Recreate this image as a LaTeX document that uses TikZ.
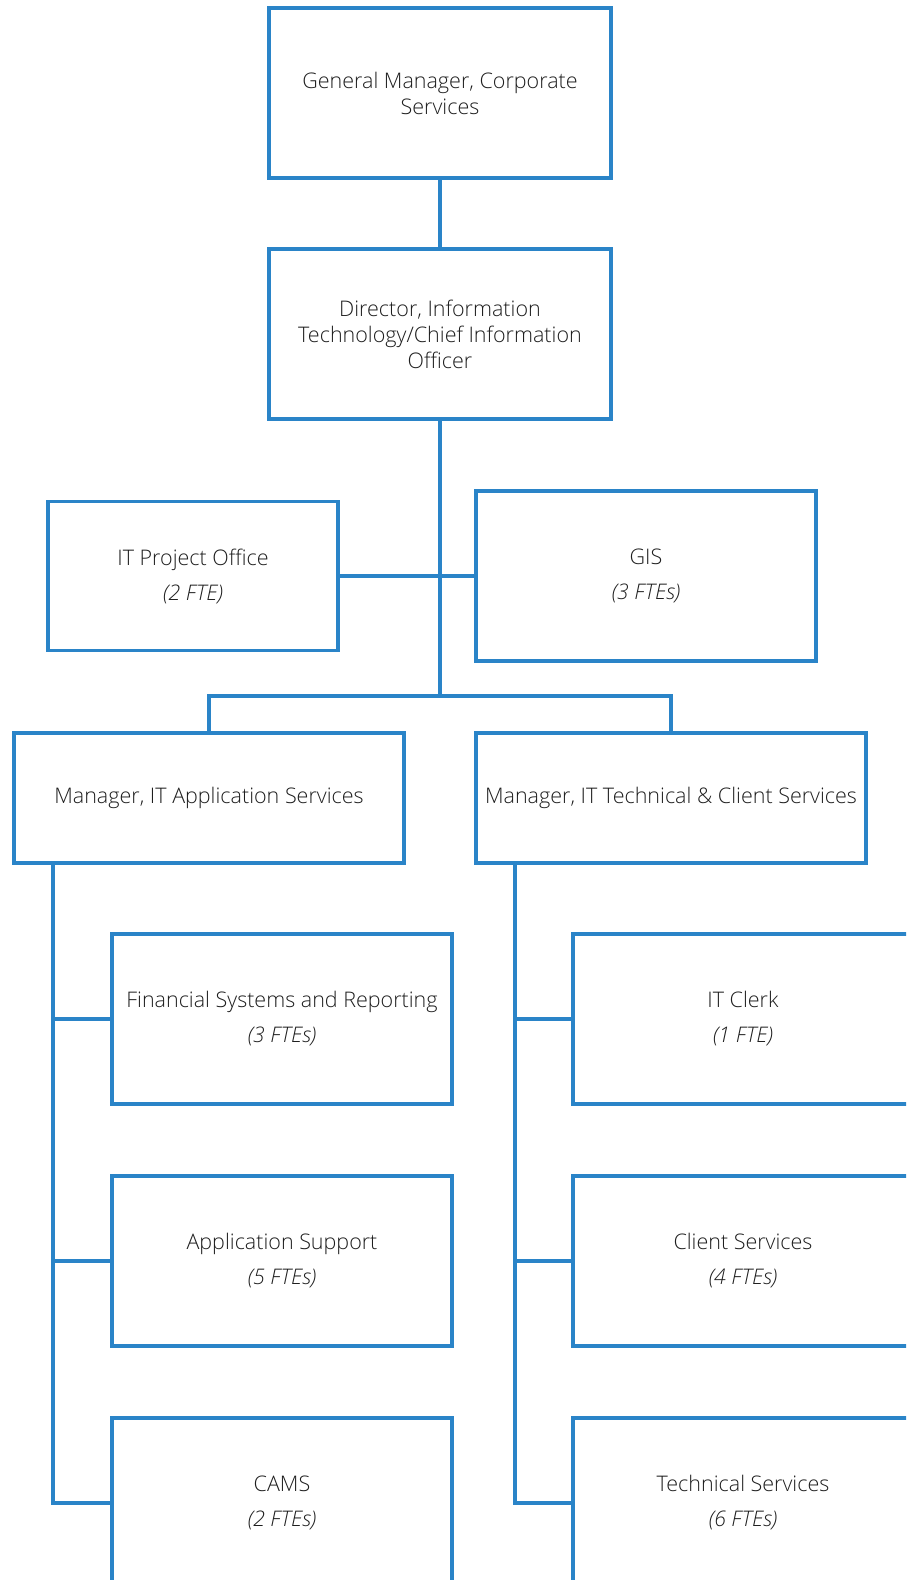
\documentclass[tikz,border=0pt]{standalone}
\usepackage{fontspec}
\setmainfont{Open Sans Light}[ItalicFont={Open Sans Light Italic}]
\definecolor{bl}{HTML}{2A84C8}
\definecolor{tx}{HTML}{1E1E1E}
\begin{document}
\begin{tikzpicture}[x=1pt,y=-1pt,
  box/.style={draw=bl,line width=3.1pt,fill=white,align=center,text=tx,inner sep=0pt,
    font=\fontsize{21.5}{26}\selectfont},
  big/.style={minimum width=342pt,minimum height=170pt},
  sub/.style={minimum width=340pt,minimum height=170pt},
  mgr/.style={minimum width=390pt,minimum height=130pt},
  con/.style={draw=bl,line width=3.1pt}]
\path[use as bounding box] (0,0) rectangle (906,1580);
\clip (0,0) rectangle (906,1580);
\node[box,big] (gm) at (440,93) {General Manager, Corporate\\Services};
\node[box,big] (dir) at (440,334) {Director, Information\\Technology/Chief Information\\Officer};
\node[box,minimum width=290pt,minimum height=149pt] (ipo) at (193,576) {IT Project Office\\[9pt]\itshape (2 FTE)};
\node[box,sub] (gis) at (646,576) {GIS\\[9pt]\itshape (3 FTEs)};
\node[box,mgr] (mas) at (209,798) {Manager, IT Application Services};
\node[box,mgr] (mts) at (671,798) {Manager, IT Technical \& Client Services};
\node[box,sub] (fin) at (282,1019) {Financial Systems and Reporting\\[9pt]\itshape (3 FTEs)};
\node[box,sub] (aps) at (282,1261) {Application Support\\[9pt]\itshape (5 FTEs)};
\node[box,sub] (cams) at (282,1503) {CAMS\\[9pt]\itshape (2 FTEs)};
\node[box,sub] (clerk) at (743,1019) {IT Clerk\\[9pt]\itshape (1 FTE)};
\node[box,sub] (cs) at (743,1261) {Client Services\\[9pt]\itshape (4 FTEs)};
\node[box,sub] (ts) at (743,1503) {Technical Services\\[9pt]\itshape (6 FTEs)};
\coordinate (bus) at (440,696);
\coordinate (la) at (53,863);
\coordinate (ra) at (515,863);
\path[con] (gm.south) -- (dir.north);
\path[con] (dir.south) -- (bus);
\path[con] (ipo.east) -- (gis.west);
\path[con] (mas.north) |- (bus) -| (mts.north);
\path[con] (la) |- (cams.west);
\path[con] (la |- fin.west) -- (fin.west);
\path[con] (la |- aps.west) -- (aps.west);
\path[con] (ra) |- (ts.west);
\path[con] (ra |- clerk.west) -- (clerk.west);
\path[con] (ra |- cs.west) -- (cs.west);
\end{tikzpicture}
\end{document}
